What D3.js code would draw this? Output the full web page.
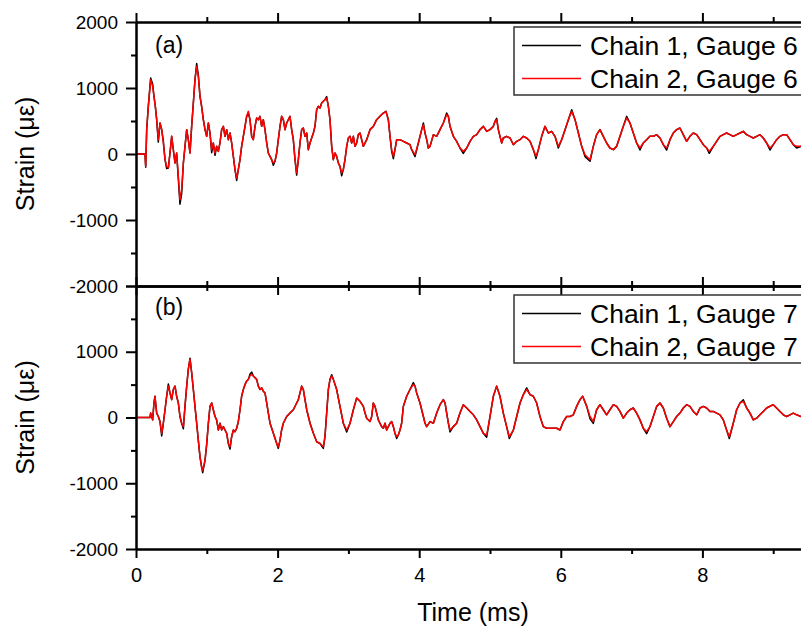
<!DOCTYPE html>
<html>
<head>
<meta charset="utf-8">
<script src="https://cdn.jsdelivr.net/npm/d3@7"></script>
<style>
body { margin: 0; background: #fff; }
text { font-family: Arial, "Liberation Sans", sans-serif; fill: #000; }
.axis path, .axis line { stroke: #000; stroke-width: 2; }
.axis text { font-size: 19px; font-family: Arial, "Liberation Sans", sans-serif; }
</style>
</head>
<body>
<svg width="801" height="633"></svg>
<script>
// [time (ms), strain (microstrain)]
const chain2Gauge6 = [[0,0],[0.127,0],[0.137,-187],[0.151,369],[0.174,722],[0.207,1126],[0.235,1025],[0.254,874],[0.273,722],[0.292,520],[0.315,217],[0.339,470],[0.363,369],[0.386,167],[0.41,-86],[0.433,-187],[0.457,-212],[0.48,15],[0.504,268],[0.527,66],[0.551,-136],[0.574,15],[0.598,-338],[0.621,-692],[0.645,-540],[0.669,-136],[0.692,116],[0.716,369],[0.739,217],[0.763,15],[0.786,419],[0.81,773],[0.833,1126],[0.857,1328],[0.88,1177],[0.904,874],[0.927,722],[0.951,520],[0.975,369],[0.998,268],[1.022,470],[1.045,318],[1.069,66],[1.092,167],[1.116,15],[1.139,116],[1.163,40],[1.186,167],[1.21,369],[1.234,419],[1.257,268],[1.281,369],[1.304,217],[1.328,318],[1.351,167],[1.375,-35],[1.398,-237],[1.422,-364],[1.445,-237],[1.469,-86],[1.492,116],[1.516,268],[1.54,419],[1.563,571],[1.587,646],[1.61,520],[1.634,268],[1.657,217],[1.681,419],[1.704,545],[1.728,520],[1.751,571],[1.775,419],[1.798,520],[1.822,369],[1.846,167],[1.869,15],[1.893,-35],[1.916,-86],[1.94,-136],[1.963,-111],[1.987,15],[2.01,217],[2.034,419],[2.057,571],[2.081,520],[2.105,369],[2.128,470],[2.152,520],[2.175,571],[2.199,369],[2.222,217],[2.246,-86],[2.269,-288],[2.293,-86],[2.316,167],[2.34,369],[2.363,394],[2.387,268],[2.411,318],[2.434,66],[2.458,167],[2.481,242],[2.505,318],[2.528,419],[2.552,672],[2.575,722],[2.599,697],[2.622,773],[2.646,798],[2.669,823],[2.693,848],[2.717,722],[2.74,520],[2.764,116],[2.787,-86],[2.811,15],[2.834,-35],[2.858,-136],[2.881,-187],[2.905,-288],[2.928,-237],[2.952,-86],[2.976,116],[2.999,242],[3.023,268],[3.046,167],[3.07,268],[3.093,116],[3.117,167],[3.14,293],
  [3.164,318],[3.211,116],[3.258,217],[3.305,369],[3.352,419],[3.399,520],[3.446,571],[3.494,621],[3.531,646],[3.564,520],[3.588,268],[3.611,66],[3.635,-35],[3.658,66],[3.682,217],[3.729,217],[3.776,192],[3.823,167],[3.87,141],[3.894,66],[3.941,-10],[3.988,167],[4.035,369],[4.059,444],[4.082,318],[4.106,217],[4.129,91],[4.153,116],[4.2,293],[4.247,268],[4.294,369],[4.341,470],[4.388,596],[4.412,571],[4.435,419],[4.482,268],[4.529,192],[4.576,91],[4.623,40],[4.671,91],[4.718,192],[4.765,268],[4.812,293],[4.859,369],[4.906,419],[4.953,343],[5,369],[5.047,419],[5.071,495],[5.094,520],[5.118,369],[5.141,268],[5.165,167],[5.188,242],[5.235,268],[5.283,242],[5.33,141],[5.377,192],[5.424,217],[5.471,268],[5.518,242],[5.565,192],[5.612,66],[5.65,-35],[5.683,66],[5.73,268],[5.777,419],[5.8,369],[5.824,318],[5.871,343],[5.918,268],[5.965,116],[6.012,217],[6.06,369],[6.107,520],[6.154,646],[6.201,520],[6.248,318],[6.295,116],[6.342,-10],[6.413,-86],
  [6.459,116],[6.506,293],[6.553,369],[6.6,268],[6.647,167],[6.694,91],[6.742,66],[6.789,116],[6.836,268],[6.883,419],[6.93,545],[6.977,470],[7.024,318],[7.071,167],[7.118,91],[7.165,167],[7.212,217],[7.259,268],[7.307,268],[7.354,293],[7.401,242],[7.448,141],[7.495,91],[7.542,217],[7.589,318],[7.636,369],[7.683,394],[7.73,293],[7.777,192],[7.824,268],[7.871,318],[7.919,293],[7.966,217],[8.013,141],[8.06,91],[8.097,40],[8.154,116],[8.201,192],[8.248,268],[8.295,293],[8.342,318],[8.389,293],[8.436,268],[8.484,293],[8.531,318],[8.578,343],[8.625,293],[8.672,268],[8.719,242],[8.766,268],[8.813,293],[8.86,242],[8.907,167],[8.954,91],[9.001,141],[9.048,217],[9.096,268],[9.143,293],[9.19,293],[9.237,217],[9.284,141],[9.331,116],[9.392,116],[9.5,130]]

const chain1Gauge6 = [[0,0],[0.127,0],[0.137,-200],[0.151,369],[0.174,722],[0.207,1150],[0.235,1060],[0.254,874],[0.273,722],[0.292,520],[0.315,180],[0.339,470],[0.363,369],[0.386,200],[0.41,-86],[0.433,-220],[0.457,-212],[0.48,15],[0.504,268],[0.527,66],[0.551,-136],[0.574,15],[0.598,-380],[0.621,-760],[0.645,-600],[0.669,-136],[0.692,116],[0.716,369],[0.739,217],[0.763,15],[0.786,419],[0.81,773],[0.833,1126],[0.857,1370],[0.88,1200],[0.904,874],[0.927,722],[0.951,520],[0.975,369],[0.998,268],[1.022,470],[1.045,318],[1.069,20],[1.092,167],[1.116,-20],[1.139,116],[1.163,40],[1.186,167],[1.21,369],[1.234,419],[1.257,268],[1.281,369],[1.304,217],[1.328,318],[1.351,167],[1.375,-35],[1.398,-237],[1.422,-400],[1.445,-237],[1.469,-86],[1.492,116],[1.516,268],[1.54,419],[1.563,571],[1.587,620],[1.61,520],[1.634,268],[1.657,217],[1.681,419],[1.704,545],[1.728,520],[1.751,571],[1.775,419],[1.798,520],[1.822,369],[1.846,167],[1.869,15],[1.893,-35],[1.916,-86],[1.94,-170],[1.963,-111],[1.987,15],[2.01,217],[2.034,419],[2.057,571],[2.081,520],[2.105,369],[2.128,470],[2.152,520],[2.175,571],[2.199,369],[2.222,217],[2.246,-86],[2.269,-320],[2.293,-86],[2.316,167],[2.34,369],[2.363,394],[2.387,268],[2.411,318],[2.434,66],[2.458,167],[2.481,242],[2.505,318],[2.528,419],[2.552,672],[2.575,722],[2.599,697],[2.622,773],[2.646,798],[2.669,823],[2.693,870],[2.717,722],[2.74,520],[2.764,116],[2.787,-86],[2.811,15],[2.834,-35],[2.858,-136],[2.881,-187],[2.905,-330],[2.928,-237],[2.952,-86],[2.976,116],[2.999,242],[3.023,268],[3.046,167],[3.07,268],[3.093,116],[3.117,167],[3.14,293],
  [3.164,318],[3.211,116],[3.258,217],[3.305,369],[3.352,419],[3.399,520],[3.446,571],[3.494,621],[3.531,646],[3.564,520],[3.588,268],[3.611,40],[3.635,-70],[3.658,66],[3.682,217],[3.729,217],[3.776,192],[3.823,167],[3.87,141],[3.894,66],[3.941,-40],[3.988,167],[4.035,369],[4.059,470],[4.082,318],[4.106,217],[4.129,91],[4.153,116],[4.2,293],[4.247,268],[4.294,369],[4.341,470],[4.388,620],[4.412,571],[4.435,419],[4.482,268],[4.529,192],[4.576,91],[4.623,10],[4.671,91],[4.718,192],[4.765,268],[4.812,293],[4.859,369],[4.906,419],[4.953,343],[5,369],[5.047,419],[5.071,495],[5.094,540],[5.118,369],[5.141,268],[5.165,167],[5.188,242],[5.235,268],[5.283,242],[5.33,141],[5.377,192],[5.424,217],[5.471,268],[5.518,242],[5.565,192],[5.612,66],[5.65,-70],[5.683,66],[5.73,268],[5.777,419],[5.8,369],[5.824,318],[5.871,343],[5.918,268],[5.965,90],[6.012,217],[6.06,369],[6.107,520],[6.154,670],[6.201,520],[6.248,318],[6.295,116],[6.342,-40],[6.413,-110],
  [6.459,116],[6.506,293],[6.553,369],[6.6,268],[6.647,167],[6.694,91],[6.742,66],[6.789,116],[6.836,268],[6.883,419],[6.93,570],[6.977,470],[7.024,318],[7.071,167],[7.118,60],[7.165,167],[7.212,217],[7.259,268],[7.307,268],[7.354,293],[7.401,242],[7.448,141],[7.495,60],[7.542,217],[7.589,318],[7.636,369],[7.683,394],[7.73,293],[7.777,192],[7.824,268],[7.871,318],[7.919,293],[7.966,217],[8.013,141],[8.06,91],[8.097,10],[8.154,116],[8.201,192],[8.248,268],[8.295,293],[8.342,318],[8.389,293],[8.436,268],[8.484,293],[8.531,318],[8.578,343],[8.625,293],[8.672,268],[8.719,242],[8.766,268],[8.813,293],[8.86,242],[8.907,167],[8.954,60],[9.001,141],[9.048,217],[9.096,268],[9.143,293],[9.19,293],[9.237,217],[9.284,141],[9.331,90],[9.392,116],[9.5,130]]

const chain2Gauge7 = [[0,0],[0.198,0],[0.207,67],[0.235,-36],[0.254,221],[0.268,323],[0.292,67],[0.315,15],[0.339,-62],[0.363,-241],[0.386,-87],[0.41,118],[0.433,323],[0.457,477],[0.48,374],[0.504,272],[0.527,426],[0.551,477],[0.574,323],[0.598,221],[0.621,15],[0.645,-87],[0.669,-139],[0.692,169],[0.716,477],[0.739,734],[0.763,887],[0.786,682],[0.81,426],[0.833,169],[0.857,-87],[0.88,-344],[0.904,-600],[0.927,-754],[0.942,-805],[0.975,-652],[0.998,-395],[1.022,-87],[1.045,169],[1.069,221],[1.092,118],[1.116,15],[1.139,-36],[1.163,-190],[1.186,-87],[1.21,-190],[1.234,-139],[1.257,-190],[1.281,-241],[1.304,-395],[1.328,-446],[1.351,-292],[1.375,-190],[1.398,-215],[1.422,-164],[1.445,-62],[1.469,118],[1.492,323],[1.516,426],[1.54,503],[1.563,554],[1.587,580],[1.61,631],[1.634,657],[1.657,631],[1.681,605],[1.704,580],[1.728,477],[1.751,426],[1.775,451],[1.798,400],[1.822,374],[1.846,221],[1.869,67],[1.893,-87],[1.94,-241],[1.987,-395],[2.01,-446],[2.034,-344],[2.057,-190],[2.081,-87],[2.128,15],[2.175,67],[2.222,118],[2.269,221],[2.293,272],[2.316,374],[2.34,477],[2.363,426],[2.387,272],[2.411,118],[2.458,-87],[2.505,-241],[2.552,-369],[2.599,-395],[2.646,-446],[2.669,-292],[2.693,67],[2.717,426],[2.74,580],[2.764,631],[2.787,580],[2.834,426],[2.881,169],[2.928,-87],[2.976,-190],[3.023,-87],[3.07,118],[3.117,298],[3.164,246],
  [3.211,169],[3.235,67],[3.258,-10],[3.305,-62],[3.329,15],[3.352,221],[3.376,169],[3.399,67],[3.423,-36],[3.446,-87],[3.47,-139],[3.494,-164],[3.517,-87],[3.541,-190],[3.564,-139],[3.588,-87],[3.611,-62],[3.635,-139],[3.658,-241],[3.682,-292],[3.705,-267],[3.729,-190],[3.752,-87],[3.776,169],[3.823,323],[3.87,426],[3.917,503],[3.941,477],[3.964,374],[4.011,221],[4.059,15],[4.082,-87],[4.106,-139],[4.153,-62],[4.2,-87],[4.247,67],[4.294,195],[4.341,272],[4.365,221],[4.388,67],[4.412,-87],[4.435,-190],[4.482,-139],[4.529,-87],[4.576,67],[4.623,195],[4.671,144],[4.718,92],[4.765,41],[4.812,-36],[4.859,-139],[4.906,-241],[4.953,-267],[5,15],[5.047,323],[5.094,477],[5.141,323],[5.188,67],[5.235,-139],[5.273,-292],[5.33,-190],[5.377,15],[5.424,221],[5.471,349],[5.518,426],[5.565,349],[5.612,323],[5.659,221],[5.706,15],[5.753,-139],[5.8,-164],[5.847,-164],[5.895,-164],[5.942,-164],[5.989,-190],[6.036,-62],[6.083,15],[6.13,15],[6.177,41],[6.224,169],[6.271,272],[6.309,323],[6.366,169],[6.413,15],
  [6.459,-62],[6.506,118],[6.553,195],[6.6,118],[6.647,41],[6.694,118],[6.742,195],[6.789,169],[6.836,92],[6.883,-10],[6.93,67],[6.977,118],[7.024,144],[7.071,67],[7.118,-36],[7.165,-164],[7.212,-215],[7.259,-139],[7.307,15],[7.354,169],[7.401,221],[7.448,144],[7.495,-10],[7.542,-139],[7.589,-62],[7.636,15],[7.683,67],[7.73,144],[7.777,195],[7.824,169],[7.871,92],[7.919,41],[7.966,144],[8.013,169],[8.06,144],[8.107,92],[8.154,92],[8.201,67],[8.248,41],[8.295,-36],[8.342,-190],[8.38,-292],[8.436,-87],[8.484,118],[8.531,221],[8.578,246],[8.625,144],[8.672,67],[8.719,-36],[8.766,-10],[8.813,41],[8.86,92],[8.907,144],[9.001,195],[9.048,144],[9.096,92],[9.143,41],[9.19,15],[9.237,41],[9.284,67],[9.331,41],[9.392,15],[9.5,30]]

const chain1Gauge7 = [[0,0],[0.198,0],[0.207,67],[0.235,-36],[0.254,221],[0.268,323],[0.292,67],[0.315,15],[0.339,-62],[0.363,-280],[0.386,-87],[0.41,118],[0.433,323],[0.457,510],[0.48,374],[0.504,272],[0.527,426],[0.551,477],[0.574,323],[0.598,221],[0.621,15],[0.645,-87],[0.669,-170],[0.692,169],[0.716,477],[0.739,734],[0.763,900],[0.786,682],[0.81,426],[0.833,169],[0.857,-87],[0.88,-344],[0.904,-600],[0.927,-754],[0.942,-840],[0.975,-652],[0.998,-420],[1.022,-87],[1.045,169],[1.069,221],[1.092,118],[1.116,15],[1.139,-36],[1.163,-190],[1.186,-87],[1.21,-190],[1.234,-139],[1.257,-190],[1.281,-241],[1.304,-395],[1.328,-480],[1.351,-292],[1.375,-190],[1.398,-215],[1.422,-164],[1.445,-62],[1.469,118],[1.492,323],[1.516,426],[1.54,503],[1.563,554],[1.587,580],[1.61,660],[1.634,690],[1.657,631],[1.681,605],[1.704,580],[1.728,477],[1.751,426],[1.775,451],[1.798,400],[1.822,374],[1.846,221],[1.869,67],[1.893,-87],[1.94,-241],[1.987,-395],[2.01,-470],[2.034,-344],[2.057,-190],[2.081,-87],[2.128,15],[2.175,67],[2.222,118],[2.269,221],[2.293,272],[2.316,374],[2.34,477],[2.363,426],[2.387,272],[2.411,118],[2.458,-87],[2.505,-241],[2.552,-369],[2.599,-395],[2.646,-470],[2.669,-292],[2.693,67],[2.717,426],[2.74,580],[2.764,650],[2.787,580],[2.834,426],[2.881,169],[2.928,-87],[2.976,-220],[3.023,-87],[3.07,118],[3.117,298],[3.164,246],
  [3.211,169],[3.235,67],[3.258,-10],[3.305,-62],[3.329,15],[3.352,221],[3.376,169],[3.399,67],[3.423,-36],[3.446,-87],[3.47,-139],[3.494,-164],[3.517,-87],[3.541,-190],[3.564,-139],[3.588,-87],[3.611,-62],[3.635,-139],[3.658,-241],[3.682,-320],[3.705,-267],[3.729,-190],[3.752,-87],[3.776,169],[3.823,323],[3.87,426],[3.917,530],[3.941,477],[3.964,374],[4.011,221],[4.059,15],[4.082,-87],[4.106,-139],[4.153,-62],[4.2,-87],[4.247,67],[4.294,195],[4.341,272],[4.365,221],[4.388,67],[4.412,-87],[4.435,-220],[4.482,-139],[4.529,-87],[4.576,67],[4.623,195],[4.671,144],[4.718,92],[4.765,41],[4.812,-36],[4.859,-139],[4.906,-241],[4.953,-300],[5,15],[5.047,323],[5.094,477],[5.141,323],[5.188,67],[5.235,-139],[5.273,-320],[5.33,-190],[5.377,15],[5.424,221],[5.471,349],[5.518,450],[5.565,349],[5.612,323],[5.659,221],[5.706,15],[5.753,-139],[5.8,-164],[5.847,-164],[5.895,-164],[5.942,-164],[5.989,-190],[6.036,-62],[6.083,15],[6.13,15],[6.177,41],[6.224,169],[6.271,272],[6.309,323],[6.366,169],[6.413,-20],
  [6.459,-90],[6.506,118],[6.553,195],[6.6,118],[6.647,41],[6.694,118],[6.742,195],[6.789,169],[6.836,92],[6.883,-10],[6.93,67],[6.977,118],[7.024,144],[7.071,67],[7.118,-36],[7.165,-164],[7.212,-245],[7.259,-139],[7.307,15],[7.354,169],[7.401,221],[7.448,144],[7.495,-10],[7.542,-139],[7.589,-62],[7.636,15],[7.683,67],[7.73,144],[7.777,195],[7.824,169],[7.871,92],[7.919,41],[7.966,144],[8.013,169],[8.06,144],[8.107,92],[8.154,92],[8.201,67],[8.248,41],[8.295,-36],[8.342,-190],[8.38,-320],[8.436,-87],[8.484,118],[8.531,221],[8.578,270],[8.625,144],[8.672,67],[8.719,-36],[8.766,-10],[8.813,41],[8.86,92],[8.907,144],[9.001,195],[9.048,144],[9.096,92],[9.143,41],[9.19,15],[9.237,41],[9.284,67],[9.331,41],[9.392,15],[9.5,30]]

const xTicks = [0, 2, 4, 6, 8]
const xMinor = [1, 3, 5, 7, 9]
const yTicks = [-2000, -1000, 0, 1000, 2000]
const yMinor = [-1500, -500, 500, 1500]
const panelLabels = ['(a)', '(b)']
const legendLabels = [['Chain 1, Gauge 6', 'Chain 2, Gauge 6'], ['Chain 1, Gauge 7', 'Chain 2, Gauge 7']]
const seriesColors = ['#000000', '#ff0000']

let svg = d3.select('svg')
let left = 136
let xScale = d3.scaleLinear().domain([0, 10]).range([left, left + 708])

let panels = [
  {top: 22, bottom: 286, data: [chain1Gauge6, chain2Gauge6], legendTop: 27},
  {top: 286, bottom: 549, data: [chain1Gauge7, chain2Gauge7], legendTop: 295}
]

panels.forEach((p, i) => {
  let yScale = d3.scaleLinear().domain([-2000, 2000]).range([p.bottom, p.top])
  let line = d3.line().x(d => xScale(d[0])).y(d => yScale(d[1]))

  //traces, chain 1 underneath chain 2
  p.data.forEach((series, k) => {
    svg.append('path')
      .datum(series)
      .attr('d', line)
      .attr('fill', 'none')
      .attr('stroke', seriesColors[k])
      .attr('stroke-width', 1.5)
      .attr('stroke-linejoin', 'round')
  })

  //left axis, the 2000 label of the lower panel is hidden by the upper one
  svg.append('g')
    .attr('class', 'axis')
    .attr('transform', 'translate(' + left + ',0)')
    .call(d3.axisLeft(yScale).tickValues(yTicks).tickSize(10).tickSizeOuter(0).tickPadding(8)
      .tickFormat(d => (i == 1 && d == 2000) ? '' : d))
  svg.append('g')
    .attr('class', 'axis')
    .attr('transform', 'translate(' + left + ',0)')
    .call(d3.axisLeft(yScale).tickValues(yMinor).tickSize(5).tickSizeOuter(0).tickFormat(''))

  //top and bottom frame with outward ticks
  svg.append('g')
    .attr('class', 'axis')
    .attr('transform', 'translate(0,' + p.top + ')')
    .call(d3.axisTop(xScale).tickValues(xTicks).tickSize(9).tickSizeOuter(0).tickFormat(''))
  svg.append('g')
    .attr('class', 'axis')
    .attr('transform', 'translate(0,' + p.top + ')')
    .call(d3.axisTop(xScale).tickValues(xMinor).tickSize(5).tickSizeOuter(0).tickFormat(''))
  let bottomAxis = svg.append('g')
    .attr('class', 'axis')
    .attr('transform', 'translate(0,' + p.bottom + ')')
    .call(d3.axisBottom(xScale).tickValues(xTicks).tickSize(9).tickSizeOuter(0).tickPadding(10)
      .tickFormat(i == 1 ? d3.format('d') : ''))
  bottomAxis.selectAll('text').style('font-size', '20px')
  svg.append('g')
    .attr('class', 'axis')
    .attr('transform', 'translate(0,' + p.bottom + ')')
    .call(d3.axisBottom(xScale).tickValues(xMinor).tickSize(5).tickSizeOuter(0).tickFormat(''))

  //y axis title
  svg.append('text')
    .attr('transform', 'translate(34,' + yScale(0) + ') rotate(-90)')
    .attr('text-anchor', 'middle')
    .style('font-size', '25px')
    .text('Strain (\u03bc\u03b5)')

  //panel tag
  svg.append('text')
    .attr('x', 155)
    .attr('y', p.top + (i == 0 ? 31 : 29))
    .style('font-size', '23px')
    .text(panelLabels[i])

  //legend
  let lg = svg.append('g').attr('transform', 'translate(514,' + p.legendTop + ')')
  lg.append('rect')
    .attr('width', 300)
    .attr('height', 68)
    .attr('fill', '#fff')
    .attr('stroke', '#333')
    .attr('stroke-width', 1.5)
  legendLabels[i].forEach((lab, k) => {
    let ly = 18.5 + k * 33
    lg.append('line')
      .attr('x1', 8).attr('x2', 67)
      .attr('y1', ly).attr('y2', ly)
      .attr('stroke', seriesColors[k])
      .attr('stroke-width', 1.3)
    lg.append('text')
      .attr('x', 76)
      .attr('y', ly + 9)
      .style('font-size', '26.5px')
      .text(lab)
  })
})

//x axis title
svg.append('text')
  .attr('x', 473)
  .attr('y', 621)
  .attr('text-anchor', 'middle')
  .style('font-size', '25px')
  .text('Time (ms)')
</script>
</body>
</html>
